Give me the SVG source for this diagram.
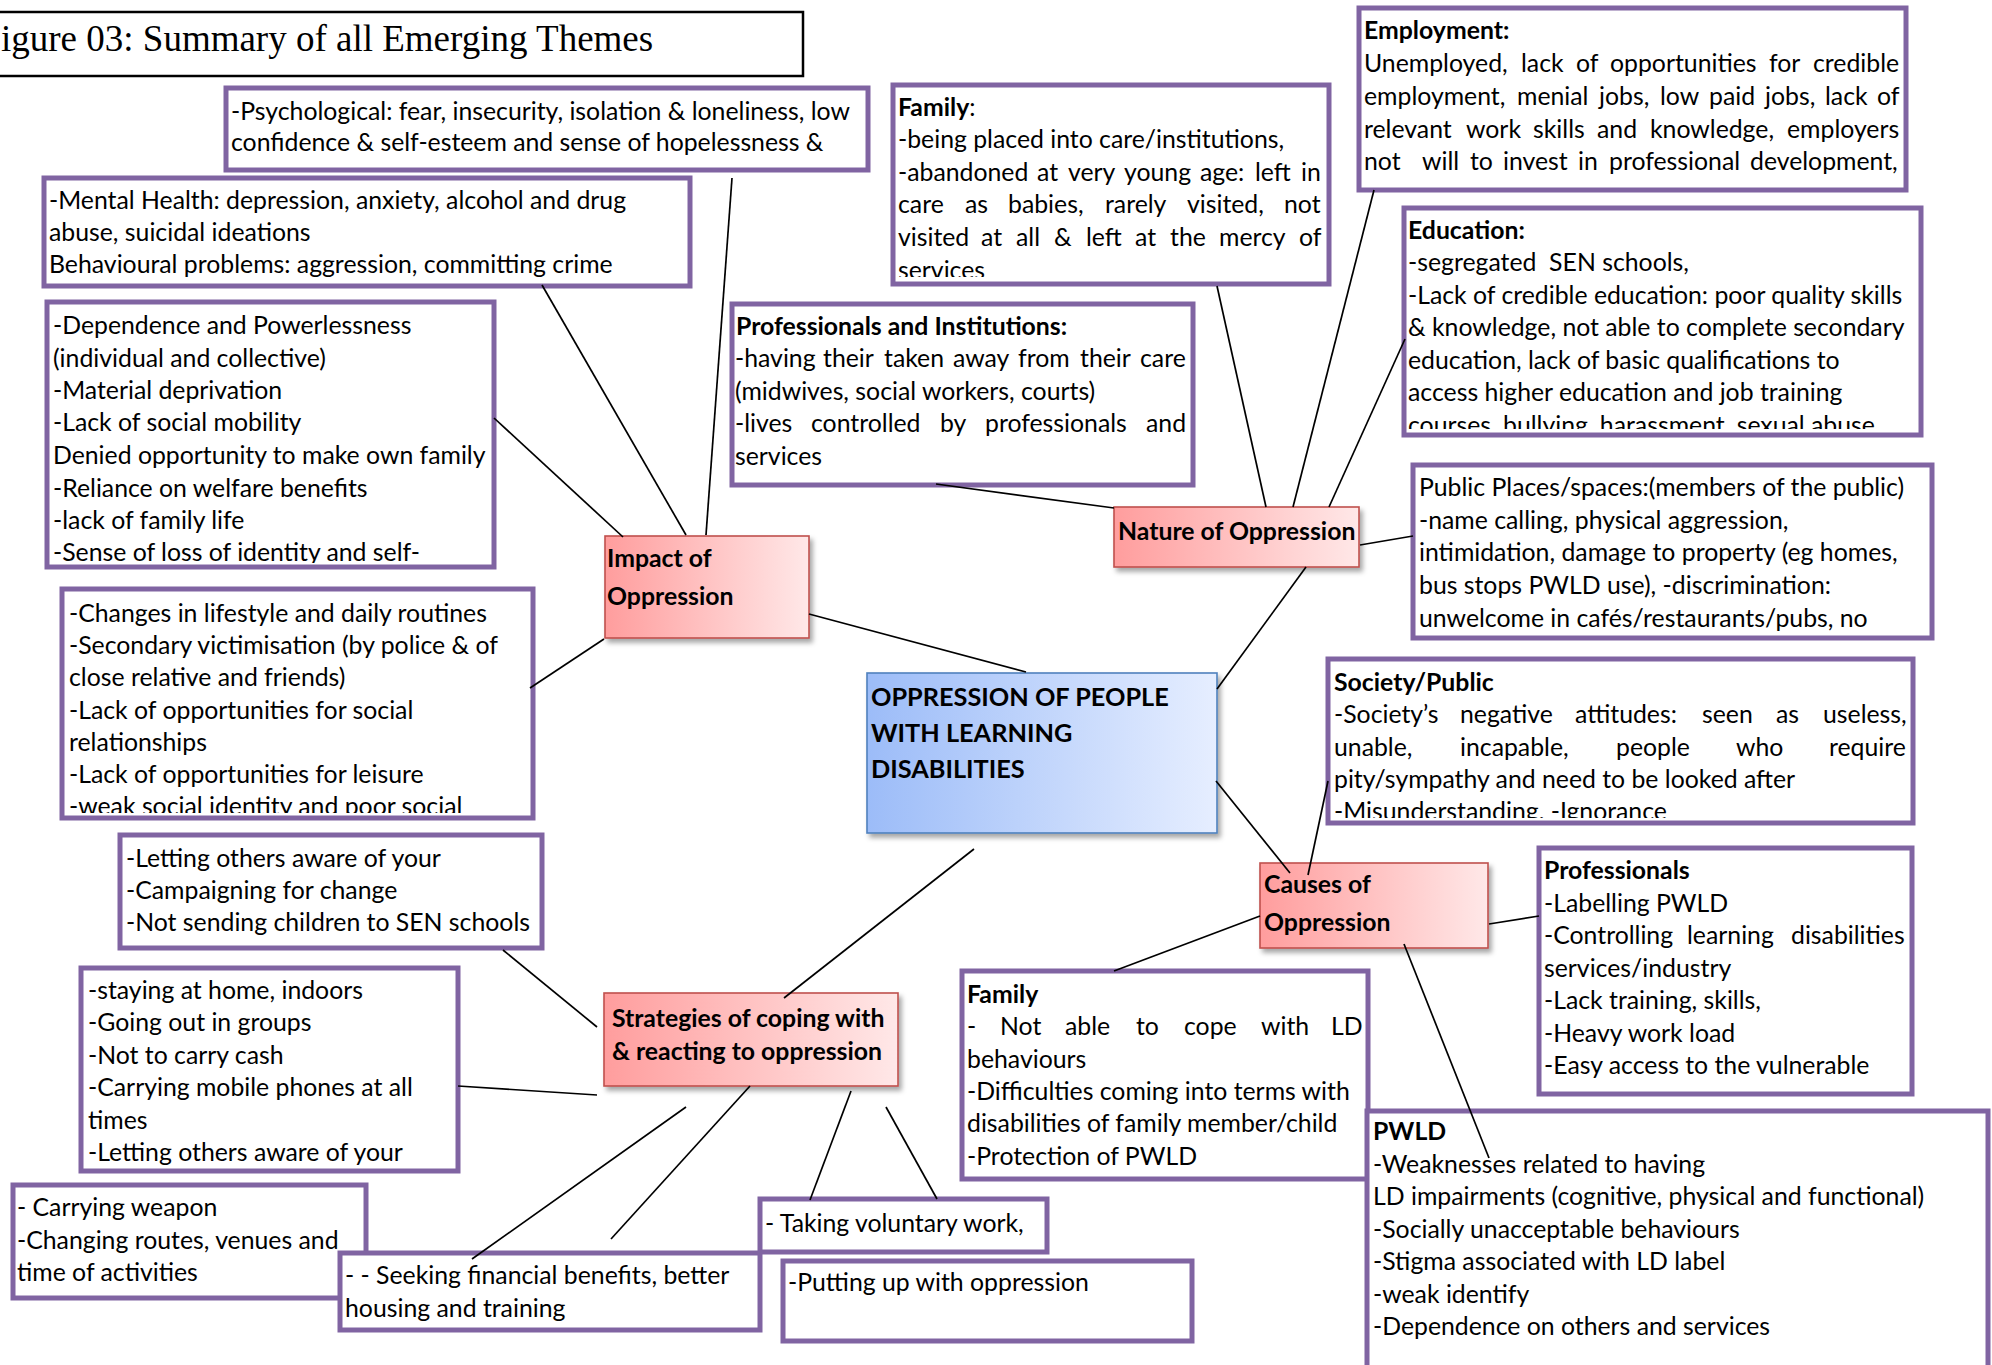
<svg xmlns="http://www.w3.org/2000/svg" width="1992" height="1365" viewBox="0 0 1992 1365">
<style>
.box{fill:#fff;stroke:#8064A2;stroke-width:5}
.t{font-family:Lato,"Open Sans","Liberation Sans",sans-serif;font-size:24.8px;fill:#000}
.b{font-weight:bold}
.nr{fill:url(#gr);stroke:#C0504D;stroke-width:1.6;filter:url(#sh)}
.nb{fill:url(#gb);stroke:#4F81BD;stroke-width:1.6;filter:url(#sh)}
.c{stroke:#000;stroke-width:1.7;fill:none}
.ttl{font-family:"Liberation Serif","Times New Roman",serif;font-size:37px;fill:#000}
.cap{font-size:25.3px}
</style>
<defs>
<linearGradient id="gr" x1="0" y1="0" x2="1" y2="0"><stop offset="0" stop-color="#FF9D9D"/><stop offset="1" stop-color="#FFE8E8"/></linearGradient>
<linearGradient id="gb" x1="0" y1="0" x2="1" y2="0"><stop offset="0" stop-color="#9CBCF8"/><stop offset="1" stop-color="#E6EEFF"/></linearGradient>
<filter id="sh" x="-10%" y="-10%" width="130%" height="140%"><feDropShadow dx="3" dy="4" stdDeviation="2.5" flood-color="#000" flood-opacity="0.35"/></filter>
<clipPath id="cDep"><rect x="47" y="302" width="447" height="261"/></clipPath>
<clipPath id="cFam"><rect x="893" y="85" width="436" height="192"/></clipPath>
<clipPath id="cEdu"><rect x="1404" y="208" width="517" height="221"/></clipPath>
<clipPath id="cCh"><rect x="62" y="589" width="471" height="224"/></clipPath>
<clipPath id="cSoc"><rect x="1328" y="659" width="585" height="159"/></clipPath>
</defs>
<rect width="1992" height="1365" fill="#fff"/>

<g id="title">
<rect x="-5" y="12" width="808" height="64" fill="#fff" stroke="#000" stroke-width="2.5"/>
<text class="ttl" x="1" y="51">igure 03: Summary of all Emerging Themes</text>
</g>

<g id="psychological">
<rect class="box" x="226" y="88" width="642" height="82"/>
<text class="t" x="231" y="120">-Psychological: fear, insecurity, isolation &amp; loneliness, low</text>
<text class="t" x="231" y="151">confidence &amp; self-esteem and sense of hopelessness &amp;</text>
</g>

<g id="mental-health">
<rect class="box" x="44" y="178" width="646" height="108"/>
<text class="t" x="49" y="209">-Mental Health: depression, anxiety, alcohol and drug</text>
<text class="t" x="49" y="241">abuse, suicidal ideations</text>
<text class="t" x="49" y="273">Behavioural problems: aggression, committing crime</text>
</g>

<g id="dependence">
<rect class="box" x="47" y="302" width="447" height="265"/>
<g clip-path="url(#cDep)">
<text class="t" x="53" y="334">-Dependence and Powerlessness</text>
<text class="t" x="53" y="367">(individual and collective)</text>
<text class="t" x="53" y="399">-Material deprivation</text>
<text class="t" x="53" y="431">-Lack of social mobility</text>
<text class="t" x="53" y="464">Denied opportunity to make own family</text>
<text class="t" x="53" y="497">-Reliance on welfare benefits</text>
<text class="t" x="53" y="529">-lack of family life</text>
<text class="t" x="53" y="561">-Sense of loss of identity and self-</text>
</g>
</g>

<g id="changes">
<rect class="box" x="62" y="589" width="471" height="229"/>
<g clip-path="url(#cCh)">
<text class="t" x="69" y="622">-Changes in lifestyle and daily routines</text>
<text class="t" x="69" y="654">-Secondary victimisation (by police &amp; of</text>
<text class="t" x="69" y="686">close relative and friends)</text>
<text class="t" x="69" y="719">-Lack of opportunities for social</text>
<text class="t" x="69" y="751">relationships</text>
<text class="t" x="69" y="783">-Lack of opportunities for leisure</text>
<text class="t" x="69" y="815">-weak social identity and poor social</text>
</g>
</g>

<g id="letting">
<rect class="box" x="120" y="835" width="422" height="113"/>
<text class="t" x="126" y="867">-Letting others aware of your</text>
<text class="t" x="126" y="899">-Campaigning for change</text>
<text class="t" x="126" y="931">-Not sending children to SEN schools</text>
</g>

<g id="staying">
<rect class="box" x="81" y="968" width="377" height="203"/>
<text class="t" x="88" y="999">-staying at home, indoors</text>
<text class="t" x="88" y="1031">-Going out in groups</text>
<text class="t" x="88" y="1064">-Not to carry cash</text>
<text class="t" x="88" y="1096">-Carrying mobile phones at all</text>
<text class="t" x="88" y="1129">times</text>
<text class="t" x="88" y="1161">-Letting others aware of your</text>
</g>

<g id="weapon">
<rect class="box" x="13" y="1185" width="353" height="113"/>
<text class="t" x="17" y="1216">- Carrying weapon</text>
<text class="t" x="17" y="1249">-Changing routes, venues and</text>
<text class="t" x="17" y="1281">time of activities</text>
</g>

<g id="seeking">
<rect class="box" x="340" y="1253" width="420" height="77"/>
<text class="t" x="345" y="1284">- - Seeking financial benefits, better</text>
<text class="t" x="345" y="1317">housing and training</text>
</g>

<g id="voluntary">
<rect class="box" x="760" y="1199" width="287" height="53"/>
<text class="t" x="765" y="1232">- Taking voluntary work,</text>
</g>

<g id="putting-up">
<rect class="box" x="783" y="1261" width="409" height="80"/>
<text class="t" x="788" y="1291">-Putting up with oppression</text>
</g>

<g id="family-nature">
<rect class="box" x="893" y="85" width="436" height="199"/>
<g clip-path="url(#cFam)">
<text class="t" x="898" y="116"><tspan class="b">Family</tspan>:</text>
<text class="t" x="898" y="148">-being placed into care/institutions,</text>
<text class="t" y="181"><tspan x="898">-abandoned</tspan><tspan x="1037">at</tspan><tspan x="1068">very</tspan><tspan x="1124">young</tspan><tspan x="1200">age:</tspan><tspan x="1255">left</tspan><tspan x="1301">in</tspan></text>
<text class="t" y="213"><tspan x="898">care</tspan><tspan x="965">as</tspan><tspan x="1008">babies,</tspan><tspan x="1105">rarely</tspan><tspan x="1187">visited,</tspan><tspan x="1284">not</tspan></text>
<text class="t" y="246"><tspan x="898">visited</tspan><tspan x="981">at</tspan><tspan x="1016">all</tspan><tspan x="1054">&amp;</tspan><tspan x="1086">left</tspan><tspan x="1135">at</tspan><tspan x="1170">the</tspan><tspan x="1219">mercy</tspan><tspan x="1299">of</tspan></text>
<text class="t" x="898" y="279">services</text>
</g>
</g>

<g id="employment">
<rect class="box" x="1359" y="8" width="547" height="182"/>
<text class="t b" x="1364" y="39">Employment:</text>
<text class="t" y="72"><tspan x="1364">Unemployed,</tspan><tspan x="1521">lack</tspan><tspan x="1576">of</tspan><tspan x="1610">opportunities</tspan><tspan x="1769">for</tspan><tspan x="1813">credible</tspan></text>
<text class="t" y="105"><tspan x="1364">employment,</tspan><tspan x="1517">menial</tspan><tspan x="1599">jobs,</tspan><tspan x="1660">low</tspan><tspan x="1709">paid</tspan><tspan x="1765">jobs,</tspan><tspan x="1825">lack</tspan><tspan x="1877">of</tspan></text>
<text class="t" y="138"><tspan x="1364">relevant</tspan><tspan x="1466">work</tspan><tspan x="1533">skills</tspan><tspan x="1597">and</tspan><tspan x="1650">knowledge,</tspan><tspan x="1787">employers</tspan></text>
<text class="t" y="170"><tspan x="1364">not</tspan><tspan x="1422">will</tspan><tspan x="1470">to</tspan><tspan x="1503">invest</tspan><tspan x="1578">in</tspan><tspan x="1609">professional</tspan><tspan x="1750">development,</tspan></text>
</g>

<g id="education">
<rect class="box" x="1404" y="208" width="517" height="227"/>
<g clip-path="url(#cEdu)">
<text class="t b" x="1408" y="239">Education:</text>
<text class="t" x="1408" y="271" xml:space="preserve">-segregated  SEN schools,</text>
<text class="t" x="1408" y="304">-Lack of credible education: poor quality skills</text>
<text class="t" x="1408" y="336">&amp; knowledge, not able to complete secondary</text>
<text class="t" x="1408" y="369">education, lack of basic qualifications to</text>
<text class="t" x="1408" y="401">access higher education and job training</text>
<text class="t" x="1408" y="434">courses, bullying, harassment, sexual abuse</text>
</g>
</g>

<g id="professionals-institutions">
<rect class="box" x="732" y="304" width="461" height="181"/>
<text class="t b" x="736" y="335">Professionals and Institutions:</text>
<text class="t" y="367"><tspan x="735">-having</tspan><tspan x="823">their</tspan><tspan x="884">taken</tspan><tspan x="953">away</tspan><tspan x="1018">from</tspan><tspan x="1080">their</tspan><tspan x="1140">care</tspan></text>
<text class="t" x="735" y="400">(midwives, social workers, courts)</text>
<text class="t" y="432"><tspan x="735">-lives</tspan><tspan x="811">controlled</tspan><tspan x="940">by</tspan><tspan x="985">professionals</tspan><tspan x="1146">and</tspan></text>
<text class="t" x="735" y="465">services</text>
</g>

<g id="public-places">
<rect class="box" x="1413" y="465" width="519" height="173"/>
<text class="t" x="1419" y="496">Public Places/spaces:(members of the public)</text>
<text class="t" x="1419" y="529">-name calling, physical aggression,</text>
<text class="t" x="1419" y="561">intimidation, damage to property (eg homes,</text>
<text class="t" x="1419" y="594">bus stops PWLD use), -discrimination:</text>
<text class="t" x="1419" y="627">unwelcome in cafés/restaurants/pubs, no</text>
</g>

<g id="society">
<rect class="box" x="1328" y="659" width="585" height="164"/>
<g clip-path="url(#cSoc)">
<text class="t b" x="1334" y="691">Society/Public</text>
<text class="t" y="723"><tspan x="1334">-Society’s</tspan><tspan x="1460">negative</tspan><tspan x="1575">attitudes:</tspan><tspan x="1702">seen</tspan><tspan x="1776">as</tspan><tspan x="1823">useless,</tspan></text>
<text class="t" y="756"><tspan x="1334">unable,</tspan><tspan x="1460">incapable,</tspan><tspan x="1616">people</tspan><tspan x="1736">who</tspan><tspan x="1829">require</tspan></text>
<text class="t" x="1334" y="788">pity/sympathy and need to be looked after</text>
<text class="t" x="1334" y="820">-Misunderstanding, -Ignorance</text>
</g>
</g>

<g id="professionals">
<rect class="box" x="1539" y="848" width="373" height="246"/>
<text class="t b" x="1544" y="879">Professionals</text>
<text class="t" x="1544" y="912">-Labelling PWLD</text>
<text class="t" y="944"><tspan x="1544">-Controlling</tspan><tspan x="1687">learning</tspan><tspan x="1791">disabilities</tspan></text>
<text class="t" x="1544" y="977">services/industry</text>
<text class="t" x="1544" y="1009">-Lack training, skills,</text>
<text class="t" x="1544" y="1042">-Heavy work load</text>
<text class="t" x="1544" y="1074">-Easy access to the vulnerable</text>
</g>

<g id="family-causes">
<rect class="box" x="962" y="971" width="406" height="208"/>
<text class="t b" x="967" y="1003">Family</text>
<text class="t" y="1035"><tspan x="967">-</tspan><tspan x="1000">Not</tspan><tspan x="1065">able</tspan><tspan x="1136">to</tspan><tspan x="1184">cope</tspan><tspan x="1261">with</tspan><tspan x="1331">LD</tspan></text>
<text class="t" x="967" y="1068">behaviours</text>
<text class="t" x="967" y="1100">-Difficulties coming into terms with</text>
<text class="t" x="967" y="1132">disabilities of family member/child</text>
<text class="t" x="967" y="1165">-Protection of PWLD</text>
</g>

<g id="pwld">
<rect class="box" x="1367" y="1111" width="621" height="300"/>
<text class="t b" x="1373" y="1140">PWLD</text>
<text class="t" x="1373" y="1173">-Weaknesses related to having</text>
<text class="t" x="1373" y="1205">LD impairments (cognitive, physical and functional)</text>
<text class="t" x="1373" y="1238">-Socially unacceptable behaviours</text>
<text class="t" x="1373" y="1270">-Stigma associated with LD label</text>
<text class="t" x="1373" y="1303">-weak identify</text>
<text class="t" x="1373" y="1335">-Dependence on others and services</text>
</g>

<g id="impact">
<rect class="nr" x="605" y="536" width="204" height="102"/>
<text class="t b" x="607" y="567">Impact of</text>
<text class="t b" x="607" y="605">Oppression</text>
</g>

<g id="nature">
<rect class="nr" x="1114" y="507" width="245" height="60"/>
<text class="t b" x="1118" y="540">Nature of Oppression</text>
</g>

<g id="causes">
<rect class="nr" x="1260" y="863" width="228" height="85"/>
<text class="t b" x="1264" y="893">Causes of</text>
<text class="t b" x="1264" y="931">Oppression</text>
</g>

<g id="strategies">
<rect class="nr" x="604" y="993" width="294" height="93"/>
<text class="t b" x="612" y="1027">Strategies of coping with</text>
<text class="t b" x="612" y="1060">&amp; reacting to oppression</text>
</g>

<g id="center">
<rect class="nb" x="867" y="673" width="350" height="160"/>
<text class="t b cap" x="871" y="706">OPPRESSION OF PEOPLE</text>
<text class="t b cap" x="871" y="742">WITH LEARNING</text>
<text class="t b cap" x="871" y="778">DISABILITIES</text>
</g>

<g id="connectors">
<line class="c" x1="542" y1="285" x2="686" y2="535"/>
<line class="c" x1="732" y1="178" x2="706" y2="535"/>
<line class="c" x1="494" y1="418" x2="623" y2="537"/>
<line class="c" x1="604" y1="639" x2="530" y2="688"/>
<line class="c" x1="809" y1="614" x2="1026" y2="672"/>
<line class="c" x1="936" y1="484" x2="1114" y2="508"/>
<line class="c" x1="1217" y1="286" x2="1266" y2="507"/>
<line class="c" x1="1374" y1="190" x2="1293" y2="507"/>
<line class="c" x1="1405" y1="339" x2="1329" y2="507"/>
<line class="c" x1="1360" y1="545" x2="1413" y2="536"/>
<line class="c" x1="1306" y1="567" x2="1217" y2="689"/>
<line class="c" x1="1216" y1="781" x2="1290" y2="873"/>
<line class="c" x1="1328" y1="781" x2="1308" y2="875"/>
<line class="c" x1="1489" y1="924" x2="1539" y2="916"/>
<line class="c" x1="1260" y1="916" x2="1114" y2="971"/>
<line class="c" x1="1404" y1="944" x2="1489" y2="1158"/>
<line class="c" x1="974" y1="849" x2="784" y2="998"/>
<line class="c" x1="503" y1="950" x2="597" y2="1027"/>
<line class="c" x1="458" y1="1086" x2="597" y2="1095"/>
<line class="c" x1="686" y1="1107" x2="472" y2="1259"/>
<line class="c" x1="750" y1="1086" x2="611" y2="1239"/>
<line class="c" x1="851" y1="1091" x2="810" y2="1200"/>
<line class="c" x1="886" y1="1107" x2="937" y2="1199"/>
</g>
</svg>
